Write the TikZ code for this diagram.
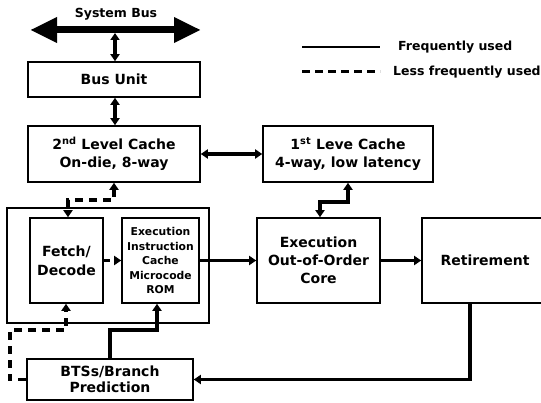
\documentclass[tikz,border=0pt]{standalone}
\usepackage{fontspec}
\setmainfont{DejaVu Sans}
\usetikzlibrary{arrows.meta}
\begin{document}
\begin{tikzpicture}[x=1pt,y=-1pt,
  box/.style={draw, line width=1.6pt, inner sep=0pt, align=center,
    font=\bfseries\fontsize{14}{18}\selectfont},
  conn/.style={line width=3.2pt, arrows={-Triangle[length=7pt,width=9pt]}},
  both/.style={arrows={Triangle[length=7pt,width=9pt]-Triangle[length=7pt,width=9pt]}},
  dconn/.style={conn, dash pattern=on 8pt off 6pt},
  lbl/.style={anchor=west, inner sep=0pt, font=\bfseries\fontsize{12.5}{15}\selectfont}]
\useasboundingbox (0,0) rectangle (541,403);

% System bus
\coordinate (busL) at (30,30);
\coordinate (busR) at (201,30);
\coordinate (busC) at (115,33);
\draw[line width=7pt, arrows={Triangle[length=27pt,width=24pt]-Triangle[length=27pt,width=24pt]}] (busL) -- (busR);
\node[lbl, anchor=center] (sysbus) at (116,14) {System Bus};

% Nodes
\node[box, minimum width=172pt, minimum height=35pt] (busunit) at (114,79.5) {Bus Unit};
\node[box, minimum width=172pt, minimum height=56pt] (l2) at (114,154) {2\textsuperscript{nd} Level Cache\\On-die, 8-way};
\node[box, minimum width=170pt, minimum height=56pt] (l1) at (348,154) {1\textsuperscript{st} Leve Cache\\4-way, low latency};
\node[box, minimum width=202pt, minimum height=115pt] (fe) at (108,265.5) {};
\node[box, minimum width=73pt, minimum height=85pt, font=\bfseries\fontsize{14}{19}\selectfont] (fetch) at (66.5,260.5) {Fetch/\\Decode};
\node[box, minimum width=77pt, minimum height=85pt, font=\bfseries\fontsize{10.8}{14.5}\selectfont] (eic) at (160.5,260.5) {Execution\\Instruction\\Cache\\Microcode\\ROM};
\node[box, minimum width=123pt, minimum height=85pt] (exec) at (318.5,260.5) {Execution\\Out-of-Order\\Core};
\node[box, minimum width=126pt, minimum height=85pt] (ret) at (485,260.5) {Retirement};
\node[box, minimum width=166pt, minimum height=41pt, font=\bfseries\fontsize{14}{15.5}\selectfont] (btb) at (110,379.5) {BTSs/Branch\\Prediction};

% Connectors
\draw[conn, both] (busC) -- (busunit.north -| busC);
\draw[conn, both] (busunit.south -| busC) -- (l2.north -| busC);
\draw[conn, both] (l2.east) -- (l1.west);
\draw[conn, both] (l1.south) -- (348,202) -- (320,202) -- (exec.north -| 320,0);
\draw[dconn, both] (l2.south) -- (114,200) -- (68,200) -- (fetch.north -| 68,0);
\draw[dconn, dash pattern=on 6pt off 4pt] (fetch.east) -- (eic.west);
\draw[conn] (eic.east) -- (exec.west);
\draw[conn] (exec.east) -- (ret.west);
\draw[conn] (ret.south -| 470,0) -- (470,379.5) -- (btb.east);
\draw[conn] (btb.north) -- (110,330) -- (157,330) -- (eic.south -| 157,0);
\draw[dconn] (btb.west) -- (10,379.5) -- (10,330) -- (66,330) -- (fetch.south -| 66,0);

% Legend
\coordinate (lg1a) at (302,47);
\coordinate (lg1b) at (380,47);
\coordinate (lg2a) at (302,72);
\coordinate (lg2b) at (380,72);
\draw[line width=1.8pt] (lg1a) -- (lg1b);
\draw[line width=3pt, dash pattern=on 8pt off 5pt] (lg2a) -- (lg2b);
\node[lbl] (lt1) at (398,47) {Frequently used};
\node[lbl] (lt2) at (393,72) {Less frequently used};
\end{tikzpicture}
\end{document}
